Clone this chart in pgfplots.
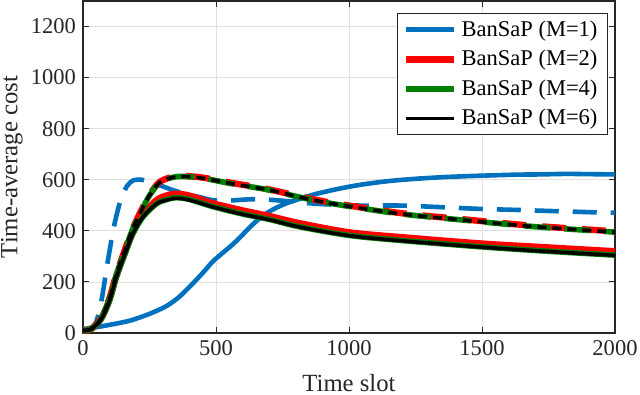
\documentclass[border=0pt]{standalone}
\usepackage{fontspec}
\setmainfont{Liberation Serif}
\usepackage{pgfplots}
\pgfplotsset{compat=1.18}
\definecolor{mblue}{rgb}{0,0.447,0.741}
\definecolor{mgreen}{rgb}{0,0.5,0}
\definecolor{axgray}{rgb}{0.15,0.15,0.15}
\begin{document}
\begin{tikzpicture}
\begin{axis}[
    scale only axis,
    width=266bp, height=166bp,
    xmin=0, xmax=2000, ymin=0, ymax=1300,
    xtick={0,500,1000,1500,2000},
    ytick={0,200,400,600,800,1000,1200},
    grid=major,
    major grid style={draw=black!12, line width=0.4bp},
    axis line style={draw=axgray, line width=0.6bp},
    tick style={draw=axgray, line width=0.5bp},
    tick align=inside,
    major tick length=3bp,
    /pgf/number format/assume math mode=true,
    /pgf/number format/1000 sep={},
    xticklabel={\pgfmathprintnumber{\tick}},
    yticklabel={\pgfmathprintnumber{\tick}},
    tick label style={font=\rmfamily\fontsize{11.3}{13}\selectfont, text=axgray},
    label style={font=\rmfamily\fontsize{12.4}{14}\selectfont, text=axgray},
    xlabel={Time slot},
    xlabel style={yshift=-2.5bp},
    ylabel={Time-average cost},
    ylabel style={at={(axis description cs:-0.1335,0.5)}, anchor=center},
    legend style={at={(axis description cs:1,1)}, anchor=north east,
        xshift=-3.5bp, yshift=-6bp, draw=axgray, line width=0.5bp,
        font=\rmfamily\fontsize{11.3}{13}\selectfont, inner xsep=3bp, inner ysep=1.5bp,
        row sep=1.5bp},
    legend cell align=left,
    legend image code/.code={\draw[#1] (0bp,0bp) -- (24bp,0bp);},
    every axis plot/.append style={smooth},
]
\coordinate (bl) at (rel axis cs:0,0);
\coordinate (tr) at (rel axis cs:1,1);
% M=1
\addplot[mblue, line width=2.3bp] coordinates {
(0,15)(30,20)(64,25)(100,32)(150,42)(188,52)(250,75)(313,105)(360,140)(401,181)
(450,235)(488,280)(530,318)(563,347)(600,385)(638,425)(680,462)(726,490)(770,510)
(814,525)(870,543)(940,560)(1002,573)(1066,584)(1150,595)(1253,604)(1350,610)
(1441,614)(1530,617)(1628,620)(1720,621)(1816,623)(1900,622)(2000,621)};
\addlegendentry{BanSaP (M=1)}
\addplot[mblue, line width=2.3bp, dash pattern=on 12bp off 7bp, forget plot] coordinates {
(0,10)(30,18)(50,45)(70,130)(90,260)(115,410)(140,515)(165,575)(190,598)(220,600)
(260,590)(300,574)(360,552)(439,532)(488,520)(550,519)(650,524)(750,518)(878,506)
(1040,499)(1190,499)(1340,493)(1490,486)(1628,482)(1778,477)(1944,472)(2000,471)};
% M=2
\addplot[red, line width=3.2bp] coordinates {
(0,10)(30,15)(64,50)(80,80)(101,135)(126,225)(163,330)(188,395)(225,462)(276,520)
(313,538)(350,545)(400,538)(488,508)(600,480)(700,458)(814,430)(1002,394)(1200,375)
(1503,350)(1750,335)(2000,320)};
\addlegendentry{BanSaP (M=2)}
\addplot[red, line width=3.2bp, dash pattern=on 12bp off 8bp, forget plot] coordinates {
(0,10)(30,15)(64,52)(100,138)(126,232)(163,342)(188,412)(225,492)(251,542)(289,592)
(351,614)(439,610)(563,587)(700,562)(814,535)(940,509)(1190,470)(1441,444)(1690,420)
(2000,398)};
% M=4
\addplot[mgreen, line width=2.8bp] coordinates {
(0,10)(30,15)(64,48)(80,78)(101,130)(126,220)(163,324)(188,390)(225,454)(276,506)
(313,522)(350,530)(400,523)(488,495)(600,466)(700,445)(814,416)(1002,382)(1200,362)
(1503,337)(1750,320)(2000,305)};
\addlegendentry{BanSaP (M=4)}
\addplot[mgreen, line width=2.8bp, dash pattern=on 13bp off 7bp, dash phase=9bp, forget plot] coordinates {
(0,10)(30,15)(64,50)(100,135)(126,230)(163,340)(188,410)(225,490)(251,540)(289,590)
(351,612)(439,608)(563,584)(700,560)(814,532)(940,506)(1190,467)(1441,441)(1690,417)
(2000,395)};
% M=6
\addplot[black, line width=1.8bp] coordinates {
(0,10)(30,15)(64,48)(80,78)(101,130)(126,220)(163,324)(188,390)(225,454)(276,506)
(313,520)(350,528)(400,521)(488,494)(600,465)(700,444)(814,415)(1002,381)(1200,361)
(1503,336)(1750,319)(2000,304)};
\addlegendentry{BanSaP (M=6)}
\addplot[black, line width=1.8bp, dash pattern=on 4.5bp off 3bp, forget plot] coordinates {
(0,10)(30,15)(64,50)(100,135)(126,230)(163,340)(188,410)(225,490)(251,540)(289,590)
(351,612)(439,608)(563,584)(700,560)(814,532)(940,506)(1190,467)(1441,441)(1690,417)
(2000,395)};
\end{axis}
\pgfresetboundingbox
\path[use as bounding box] ([shift={(-41.5bp,-31bp)}]bl) rectangle ([shift={(12.5bp,0.5bp)}]tr);
\end{tikzpicture}
\end{document}
